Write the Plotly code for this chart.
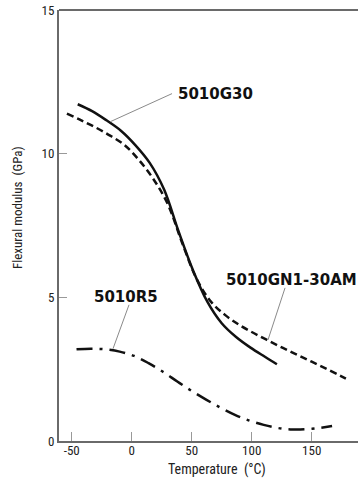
import plotly.graph_objects as go

# Flexural modulus (GPa) versus temperature (°C) for three grades
temp_g30 = [-45, -33, -21, -9, 3, 15, 27, 39, 51, 63, 75, 87, 99, 111, 121]
mod_g30 = [11.72, 11.48, 11.16, 10.8, 10.3, 9.68, 8.75, 7.3, 5.95, 4.85, 4.1, 3.62, 3.25, 2.93, 2.67]

temp_gn1 = [-54, -42, -30, -18, -6, 6, 18, 30, 42, 54, 66, 78, 90, 102, 114, 126, 138, 150, 162, 174, 180.5]
mod_gn1 = [11.39, 11.16, 10.91, 10.63, 10.3, 9.78, 9.12, 8.25, 6.9, 5.65, 4.85, 4.38, 4.03, 3.75, 3.49,
           3.24, 3.0, 2.76, 2.52, 2.27, 2.13]

temp_r5 = [-46, -34, -22, -10, 2, 14, 26, 38, 50, 62, 74, 86, 98, 110, 122, 134, 146, 158, 167]
mod_r5 = [3.19, 3.21, 3.19, 3.11, 2.96, 2.71, 2.41, 2.07, 1.74, 1.44, 1.16, 0.91, 0.71, 0.56, 0.45,
          0.40, 0.41, 0.46, 0.52]

x_ticks = [-50, 0, 50, 100, 150]
y_ticks = [0, 5, 10, 15]

INK = "#111111"
AXIS = "#6a6a6a"
TICK_FONT = dict(family="Liberation Sans Narrow, Arial Narrow, Roboto Condensed, Liberation Sans, sans-serif",
                 size=13, color="#222222")
LABEL_FONT = dict(family="DejaVu Sans, Verdana, sans-serif", size=15, color=INK)

fig = go.Figure()
fig.add_trace(go.Scatter(x=temp_g30, y=mod_g30, mode="lines", name="5010G30",
                         line=dict(color=INK, width=2.5, shape="spline", smoothing=1.0)))
fig.add_trace(go.Scatter(x=temp_gn1, y=mod_gn1, mode="lines", name="5010GN1-30AM",
                         line=dict(color=INK, width=2.5, dash="7px,4px", shape="spline", smoothing=1.0)))
fig.add_trace(go.Scatter(x=temp_r5, y=mod_r5, mode="lines", name="5010R5",
                         line=dict(color=INK, width=2.5, dash="16px,7px,3px,7px", shape="spline", smoothing=1.0)))

# series labels with thin leader lines
labels = [
    ("5010G30", 36.9, 12.06, (-18, 11.11), (33.6, 12.09)),
    ("5010GN1-30AM", 76.9, 5.61, (113.6, 3.52), (127.8, 5.33)),
    ("5010R5", -33, 5.02, (-15.6, 3.21), (-2.25, 4.74)),
]
for text, lx, ly, p0, p1 in labels:
    fig.add_annotation(x=lx, y=ly, text="<b>%s</b>" % text, showarrow=False,
                       xanchor="left", yanchor="middle", font=LABEL_FONT)
    fig.add_shape(type="line", x0=p0[0], y0=p0[1], x1=p1[0], y1=p1[1],
                  line=dict(color="#8a8a8a", width=1))

# frame top edge
fig.add_shape(type="line", xref="x domain", yref="y domain", x0=0, x1=1, y0=1, y1=1,
              line=dict(color=AXIS, width=2))

fig.add_annotation(xref="paper", yref="paper", x=(217 - 59) / (358 - 59), y=-0.065,
                   text="Temperature  (°C)", showarrow=False, xanchor="center", yanchor="middle",
                   font=dict(TICK_FONT, size=14))
fig.add_annotation(xref="paper", yref="paper", x=-0.137, y=(441 - 208) / 431,
                   text="Flexural modulus  (GPa)", showarrow=False, textangle=-90,
                   xanchor="center", yanchor="middle", font=dict(TICK_FONT, size=13))

fig.update_xaxes(range=[-60.6, 188.6], tickvals=x_ticks, ticktext=[str(v) for v in x_ticks],
                 ticks="inside", ticklen=9, tickwidth=1, tickcolor="#999999",
                 showline=True, linecolor=AXIS, linewidth=2, showgrid=False, zeroline=False,
                 tickfont=TICK_FONT, ticklabelstandoff=-4)
fig.update_yaxes(range=[0, 15], tickvals=y_ticks, ticktext=[str(v) for v in y_ticks],
                 ticks="inside", ticklen=8, tickwidth=1, tickcolor="#999999",
                 showline=True, linecolor=AXIS, linewidth=2, showgrid=False, zeroline=False,
                 tickfont=TICK_FONT, ticklabelstandoff=0)

fig.update_layout(width=358, height=478, margin=dict(l=59, r=0, t=10, b=37),
                  paper_bgcolor="white", plot_bgcolor="white", showlegend=False)

fig.write_html("out.html")
